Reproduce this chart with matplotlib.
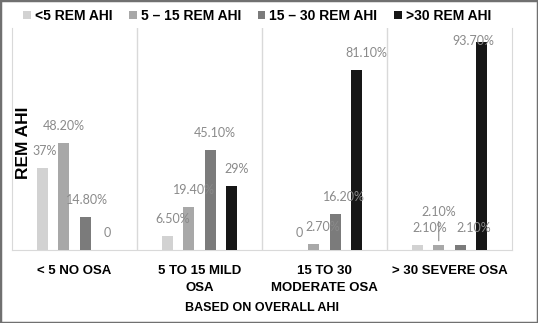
import matplotlib
matplotlib.use("Agg")
import matplotlib.pyplot as plt
from matplotlib.patches import Rectangle
import numpy as np

categories = ["< 5 NO OSA", "5 TO 15 MILD\nOSA", "15 TO 30\nMODERATE OSA", "> 30 SEVERE OSA"]
series = ["<5 REM AHI", "5 \u2013 15 REM AHI", "15 \u2013 30 REM AHI", ">30 REM AHI"]
lt5 = [37.0, 6.5, 0.0, 2.1]
r5_15 = [48.2, 19.4, 2.7, 2.1]
r15_30 = [14.8, 45.1, 16.2, 2.1]
gt30 = [0.0, 29.0, 81.1, 93.7]
labels = [["37%", "6.50%", "0", "2.10%"],
          ["48.20%", "19.40%", "2.70%", "2.10%"],
          ["14.80%", "45.10%", "16.20%", "2.10%"],
          ["0", "29%", "81.10%", "93.70%"]]

colors = ["#d2d2d2", "#a8a8a8", "#7b7b7b", "#161616"]
# manual label nudges (pixels), like the hand-moved labels in the source
nudge_x = [[2, 5, 7, 12], [0, 5, 9, 0], [2, 5, 9, 13], [0, 5, 10, -8]]
nudge_y = [[17, 17, 17, 17], [17, 17, 17, 33], [17, 17, 17, 17], [17, 17, 17, 1]]

fnt = ["Lato", "DejaVu Sans"]
bold = ["Liberation Sans", "DejaVu Sans"]

fig = plt.figure(figsize=(5.38, 3.23), dpi=100)
ax = fig.add_axes([12 / 538, 1 - 250 / 323, 500 / 538, 222 / 323])

x = np.arange(len(categories))
pitch = 0.172
width = 0.09
for i, vals in enumerate([lt5, r5_15, r15_30, gt30]):
    pos = x + (i - 1.5) * pitch
    ax.bar(pos, vals, width, color=colors[i], label=series[i], zorder=3)
    for j, v in enumerate(vals):
        ax.annotate(labels[i][j], (pos[j], v), xytext=(nudge_x[i][j], nudge_y[i][j]),
                    textcoords="offset pixels", ha="center", va="center",
                    fontsize=9, color="#8a8a8a", family=fnt, zorder=6)
        if nudge_y[i][j] > 20:
            ax.annotate("", (pos[j], v + 0.8), xytext=(pos[j], v + 12),
                        arrowprops=dict(arrowstyle="-", color="#8a8a8a", lw=0.8))

ax.set_xlim(-0.5, 3.5)
ax.set_ylim(0, 100)
for b in [0.5, 1.5, 2.5]:
    ax.axvline(b, color="#d9d9d9", lw=1, zorder=1)
for s in ["left", "right", "bottom"]:
    ax.spines[s].set_color("#d9d9d9")
ax.spines["top"].set_visible(False)
ax.set_yticks([])
ax.set_xticks(x)
ax.set_xticklabels(categories, fontsize=9.5, fontweight="bold", linespacing=1.5,
                   family=bold)
ax.tick_params(axis="x", length=0, pad=11)
ax.set_xlabel("BASED ON OVERALL AHI", fontsize=9, fontweight="bold",
              family=bold, labelpad=6)

fig.text(23 / 538, 1 - 143 / 323, "REM AHI", rotation=90, ha="center", va="center",
         fontsize=12.5, fontweight="bold", family=bold)

leg = fig.legend(loc="center", bbox_to_anchor=(257 / 538, 1 - 16 / 323), ncol=4,
                 frameon=False, handlelength=0.55, handleheight=0.55, handletextpad=0.3,
                 columnspacing=1.2, prop=dict(family=bold, weight="bold", size=10))

fig.patches.append(Rectangle((0, 0), 1, 1, transform=fig.transFigure, fill=False,
                             edgecolor="#707070", lw=2.5))

fig.savefig("out.png", dpi=100)
